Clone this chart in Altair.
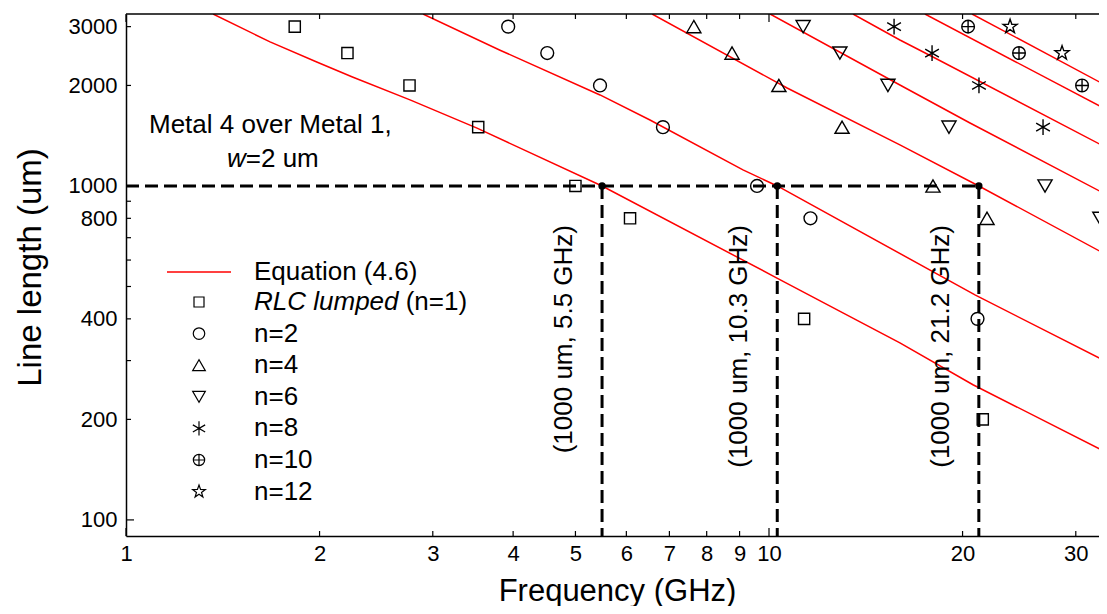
import math
import altair as alt
import pandas as pd

FONT = "Liberation Sans"

# ---------------- values ----------------
# Equation (4.6): one red curve per number of sections n  (frequency GHz, line length um)
eq_n1_f = [1.366, 1.675, 1.98, 2.25, 2.765, 3.515, 5.5, 10.29, 13.03, 15.98, 20.76, 33.55]
eq_n1_L = [3273, 2700, 2350, 2120, 1810, 1490, 1000, 530, 417, 339, 254, 159]
eq_n2_f = [2.897, 3.817, 5.46, 6.53, 9.11, 10.3, 20.91, 33.55]
eq_n2_L = [3273, 2550, 1873, 1576, 1117, 1000, 472, 297]
eq_n4_f = [6.58, 10.67, 15.98, 21.2, 33.55]
eq_n4_L = [3273, 1965, 1327, 1000, 621]
eq_n6_f = [10.04, 15.98, 20.54, 33.55]
eq_n6_L = [3273, 2006, 1544, 940]
eq_n8_f = [13.51, 15.98, 17.99, 33.55]
eq_n8_L = [3273, 2736, 2433, 1300]
eq_n10_f = [17.48, 33.55]
eq_n10_L = [3273, 1689]
eq_n12_f = [20.69, 33.55]
eq_n12_L = [3273, 1992]

# RLC lumped simulation points (frequency GHz, line length um)
sim_n1_f = [1.83, 2.21, 2.76, 3.53, 5.0, 6.08, 11.34, 21.5]
sim_n1_L = [3000, 2500, 2000, 1500, 1000, 800, 400, 200]
sim_n2_f = [3.93, 4.52, 5.46, 6.84, 9.58, 11.6, 21.1]
sim_n2_L = [3000, 2500, 2000, 1500, 1000, 800, 400]
sim_n4_f = [7.64, 8.76, 10.36, 12.99, 17.99, 21.83]
sim_n4_L = [3000, 2500, 2000, 1500, 1000, 800]
sim_n6_f = [11.3, 12.89, 15.31, 19.05, 26.87, 32.7]
sim_n6_L = [3000, 2500, 2000, 1500, 1000, 800]
sim_n8_f = [15.65, 17.93, 21.21, 26.68]
sim_n8_L = [3000, 2500, 2000, 1500]
sim_n10_f = [20.4, 24.48, 30.68]
sim_n10_L = [3000, 2500, 2000]
sim_n12_f = [23.71, 28.56]
sim_n12_L = [3000, 2500]

# 1000 um crossings marked with dashed lines
ann_f = [5.5, 10.3, 21.2]
ann_L = [1000, 1000, 1000]

# axes
x_label_values = [1, 2, 3, 4, 5, 6, 7, 8, 9, 10, 20, 30]
y_label_values = [100, 200, 400, 800, 1000, 2000, 3000]
x_major_ticks = [1, 10]
x_minor_ticks = [2, 3, 4, 5, 6, 7, 8, 9, 20, 30]
y_major_ticks = [100, 1000]
y_minor_ticks = [200, 300, 400, 500, 600, 700, 800, 900, 2000, 3000]

legend_labels = ["RLC lumped", "n=2", "n=4", "n=6", "n=8", "n=10", "n=12"]

# ---------------- layout / styles ----------------
W, H = 973, 522
TICK_FS = 22
XTITLE_FS = 31
YTITLE_FS = 33
TEXT_FS = 26
LEG_FS = 26

x_scale = alt.Scale(type="log", domain=[1, 32.6], nice=False)
y_scale = alt.Scale(type="log", domain=[89.5, 3273], nice=False)

x_axis = alt.Axis(values=x_label_values, format="~g", ticks=False, grid=False,
                  domain=True, domainColor="black", domainWidth=1.5,
                  labelFont=FONT, labelFontSize=TICK_FS, labelColor="black",
                  labelPadding=7, labelFlush=False, labelOverlap=False,
                  titleFont=FONT, titleFontSize=XTITLE_FS, titleFontWeight="normal",
                  titleColor="black", titleBaseline="alphabetic", titleY=64,
                  titleX=491, titleAlign="center")
y_axis = alt.Axis(values=y_label_values, format="~g", ticks=False, grid=False,
                  domain=True, domainColor="black", domainWidth=1.5,
                  labelFont=FONT, labelFontSize=TICK_FS, labelColor="black",
                  labelPadding=9, labelFlush=False, labelOverlap=False,
                  titleFont=FONT, titleFontSize=YTITLE_FS, titleFontWeight="normal",
                  titleColor="black", titleX=-96, titleY=253, titleBaseline="middle",
                  titleAlign="center")


def X(field):
    return alt.X(f"{field}:Q", scale=x_scale, axis=x_axis, title="Frequency (GHz)")


def Y(field):
    return alt.Y(f"{field}:Q", scale=y_scale, axis=y_axis, title="Line length (um)")


def star_path(inner=0.4):
    pts = []
    for k in range(10):
        a = -math.pi / 2 + k * math.pi / 5
        r = 1.0 if k % 2 == 0 else inner
        pts.append(f"{r * math.cos(a):.3f},{r * math.sin(a):.3f}")
    return "M" + "L".join(pts) + "Z"


SHAPES = {
    "n1": ("square", 125),
    "n2": ("circle", 165),
    "n4": ("triangle-up", 200),
    "n6": ("triangle-down", 200),
    "n8": ("M0,-1L0,1M-0.87,-0.5L0.87,0.5M-0.87,0.5L0.87,-0.5", 250),
    "n10": ("M-1,0A1,1,0,1,1,1,0A1,1,0,1,1,-1,0ZM-1,0L1,0M0,-1L0,1", 160),
    "n12": (star_path(), 220),
}

# ---------------- build tables ----------------
eq_sets = [("n1", eq_n1_f, eq_n1_L), ("n2", eq_n2_f, eq_n2_L), ("n4", eq_n4_f, eq_n4_L),
           ("n6", eq_n6_f, eq_n6_L), ("n8", eq_n8_f, eq_n8_L), ("n10", eq_n10_f, eq_n10_L),
           ("n12", eq_n12_f, eq_n12_L)]
eq_df = pd.concat([pd.DataFrame({"f": f, "L": L, "n": k}) for k, f, L in eq_sets],
                  ignore_index=True)

sim_sets = [("n1", sim_n1_f, sim_n1_L), ("n2", sim_n2_f, sim_n2_L), ("n4", sim_n4_f, sim_n4_L),
            ("n6", sim_n6_f, sim_n6_L), ("n8", sim_n8_f, sim_n8_L),
            ("n10", sim_n10_f, sim_n10_L), ("n12", sim_n12_f, sim_n12_L)]

ann_df = pd.DataFrame({"f": ann_f, "L": ann_L,
                       "lbl": [f"(1000 um, {v} GHz)" for v in ann_f]})
hline_df = pd.DataFrame({"f0": [x_label_values[0]], "f1": [max(ann_f)], "L": [ann_L[0]]})

layers = []

# red curves
layers.append(
    alt.Chart(eq_df).mark_line(color="#ff0000", strokeWidth=1.5, clip=True).encode(
        x=X("f"), y=Y("L"), detail="n:N", order="f:Q")
)

# markers
for key, f, L in sim_sets:
    shp, sz = SHAPES[key]
    layers.append(
        alt.Chart(pd.DataFrame({"f": f, "L": L})).mark_point(
            shape=shp, size=sz, filled=False, color="black", strokeWidth=1.4, opacity=1
        ).encode(x=X("f"), y=Y("L"))
    )

# dashed guides
dash = [13, 6]
layers.append(
    alt.Chart(hline_df).mark_rule(color="black", strokeWidth=3, strokeDash=dash).encode(
        x=X("f0"), x2="f1:Q", y=Y("L"))
)
layers.append(
    alt.Chart(ann_df).mark_rule(color="black", strokeWidth=3, strokeDash=dash).encode(
        x=X("f"), y=Y("L"), y2=alt.value(H))
)
layers.append(
    alt.Chart(ann_df).mark_circle(color="black", size=55, opacity=1).encode(x=X("f"), y=Y("L"))
)
# rotated labels: dy acts horizontally after a 270 degree rotation
layers.append(
    alt.Chart(ann_df).mark_text(angle=270, align="right", baseline="middle", font=FONT,
                                fontSize=TEXT_FS, color="black", dy=-38).encode(
        x=X("f"), y=alt.value(211), text="lbl:N")
)


# inward ticks
def xticks(vals, ln):
    d = pd.DataFrame({"v": vals})
    bot = alt.Chart(d).mark_rule(color="black", strokeWidth=1.2).encode(
        x=X("v"), y=alt.value(H), y2=alt.value(H - ln))
    top = alt.Chart(d).mark_rule(color="black", strokeWidth=1.2).encode(
        x=X("v"), y=alt.value(0), y2=alt.value(ln))
    return [bot, top]


def yticks(vals, ln):
    d = pd.DataFrame({"v": vals})
    return [alt.Chart(d).mark_rule(color="black", strokeWidth=1.2).encode(
        y=Y("v"), x=alt.value(0), x2=alt.value(ln))]


layers += xticks(x_major_ticks, 8) + xticks(x_minor_ticks, 5)
layers += yticks(y_major_ticks, 8) + yticks(y_minor_ticks, 5)

one = pd.DataFrame({"t": [""]})
# top frame line
layers.append(alt.Chart(one).mark_rule(color="black", strokeWidth=1.5).encode(
    x=alt.value(0), x2=alt.value(W), y=alt.value(0)))

# annotation text
layers.append(alt.Chart(pd.DataFrame({"t": ["Metal 4 over Metal 1,"]})).mark_text(
    align="left", baseline="alphabetic", font=FONT, fontSize=TEXT_FS, color="black").encode(
    x=alt.value(23), y=alt.value(119), text="t:N"))
w_w = 0.722 * TEXT_FS
layers.append(alt.Chart(pd.DataFrame({"t": ["w"]})).mark_text(
    align="left", baseline="alphabetic", font=FONT, fontSize=TEXT_FS, fontStyle="italic",
    color="black").encode(x=alt.value(101), y=alt.value(153), text="t:N"))
layers.append(alt.Chart(pd.DataFrame({"t": ["=2 um"]})).mark_text(
    align="left", baseline="alphabetic", font=FONT, fontSize=TEXT_FS, color="black").encode(
    x=alt.value(101 + w_w), y=alt.value(153), text="t:N"))

# legend
LEG_TX, LEG_MX, LEG_Y0, LEG_STEP = 128, 73, 288, 31.6
layers.append(alt.Chart(one).mark_rule(color="#ff0000", strokeWidth=1.5).encode(
    x=alt.value(41), x2=alt.value(105), y=alt.value(258)))
layers.append(alt.Chart(pd.DataFrame({"t": ["Equation (4.6)"]})).mark_text(
    align="left", baseline="middle", font=FONT, fontSize=LEG_FS, color="black").encode(
    x=alt.value(LEG_TX), y=alt.value(258), text="t:N"))
for i, (lab, (key, _, _)) in enumerate(zip(legend_labels, sim_sets)):
    yy = LEG_Y0 + i * LEG_STEP
    shp, sz = SHAPES[key]
    layers.append(alt.Chart(one).mark_point(
        shape=shp, size=sz * 0.8, filled=False, color="black", strokeWidth=1.2, opacity=1
    ).encode(x=alt.value(LEG_MX), y=alt.value(yy)))
    if i == 0:
        layers.append(alt.Chart(pd.DataFrame({"t": [lab]})).mark_text(
            align="left", baseline="middle", font=FONT, fontSize=LEG_FS, fontStyle="italic",
            color="black").encode(x=alt.value(LEG_TX), y=alt.value(yy), text="t:N"))
        w_lab = (5.557 + 0.278) * LEG_FS
        layers.append(alt.Chart(pd.DataFrame({"t": ["(n=1)"]})).mark_text(
            align="left", baseline="middle", font=FONT, fontSize=LEG_FS,
            color="black").encode(x=alt.value(LEG_TX + w_lab), y=alt.value(yy), text="t:N"))
    else:
        layers.append(alt.Chart(pd.DataFrame({"t": [lab]})).mark_text(
            align="left", baseline="middle", font=FONT, fontSize=LEG_FS,
            color="black").encode(x=alt.value(LEG_TX), y=alt.value(yy), text="t:N"))

chart = alt.layer(*layers).properties(
    width=W, height=H,
    autosize=alt.AutoSizeParams(type="none"),
    padding={"left": 118, "top": 6, "right": 0, "bottom": 70},
    background="white",
).configure_view(stroke=None)

chart.save("out.html", embed_options={"renderer": "svg", "actions": False})
